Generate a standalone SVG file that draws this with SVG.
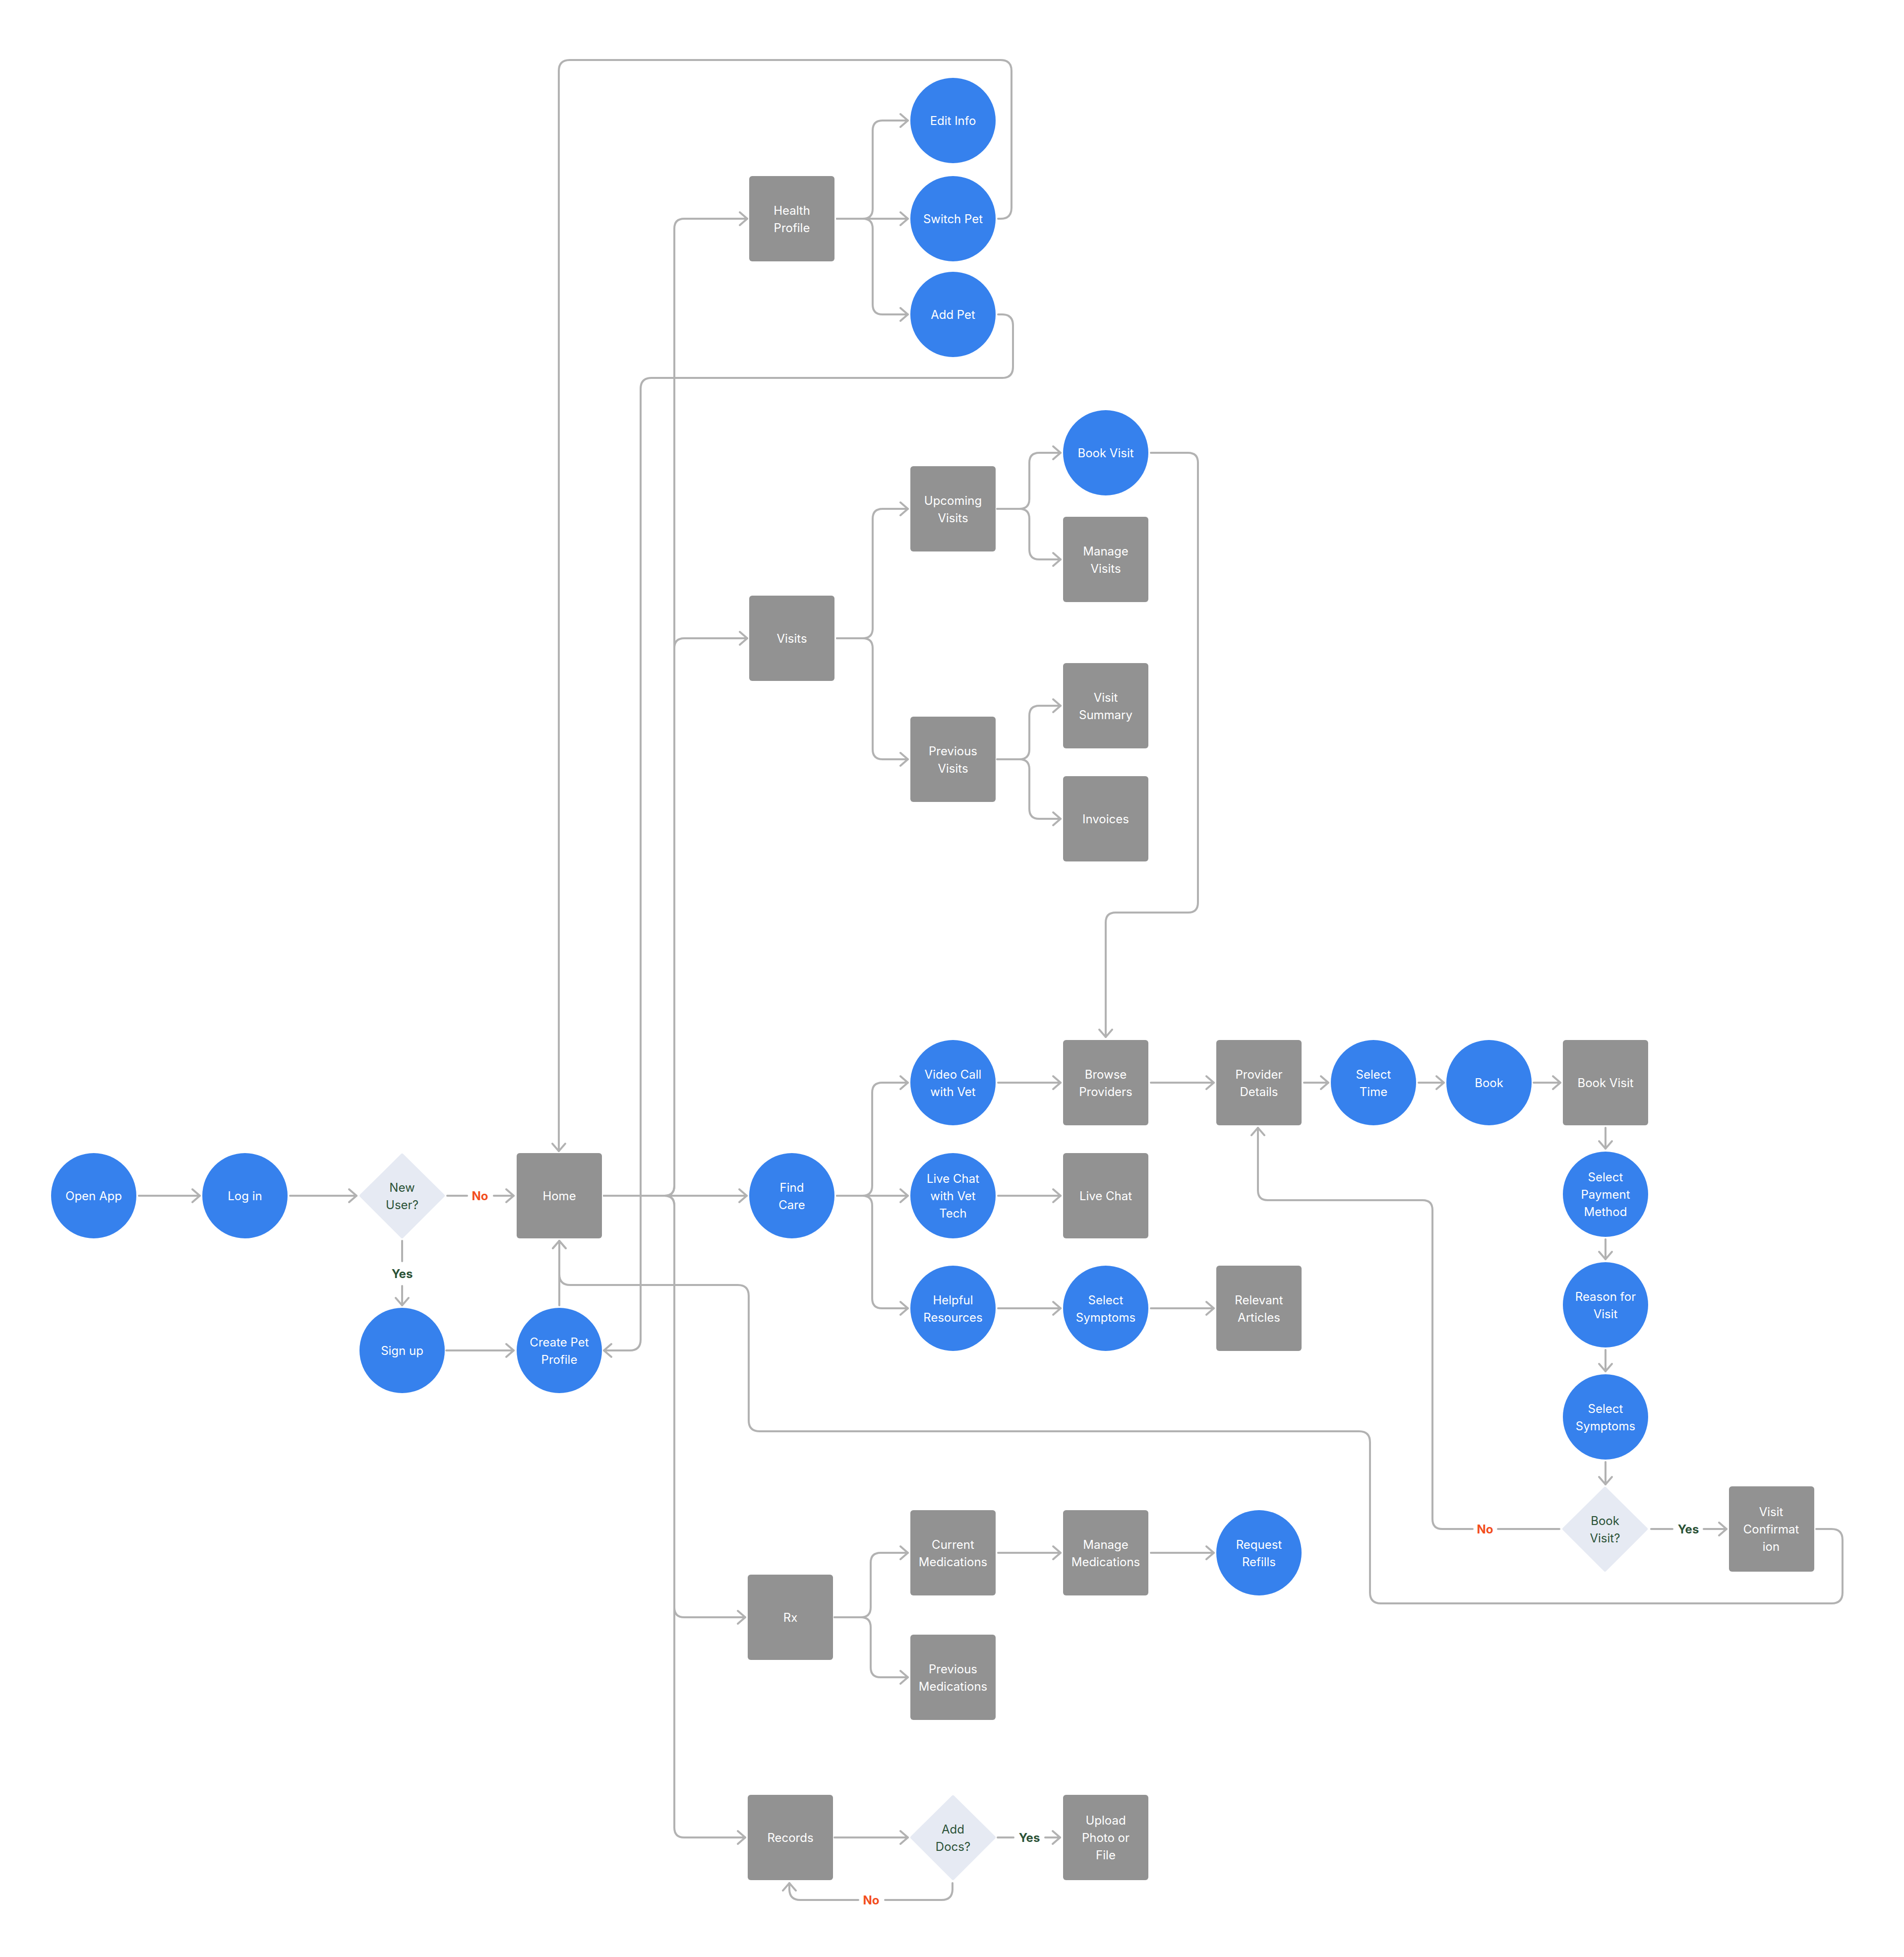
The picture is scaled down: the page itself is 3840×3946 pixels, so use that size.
<svg xmlns="http://www.w3.org/2000/svg" width="3840" height="3946" viewBox="0 0 3840 3946">
<style>
.bg{fill:#ffffff}
.c{fill:#3681ed}
.r{fill:#929292}
.d{fill:#e6eaf3;stroke:#e6eaf3;stroke-width:6;stroke-linejoin:round}
.t{font-family:Inter,"Noto Sans","Liberation Sans",sans-serif;font-size:24px;fill:#ffffff;text-anchor:middle;dominant-baseline:central}
.dt{font-family:Inter,"Noto Sans","Liberation Sans",sans-serif;font-size:24px;fill:#2b5237;text-anchor:middle;dominant-baseline:central}
.ln{fill:none;stroke:#b2b2b2;stroke-width:4;stroke-linecap:round;stroke-linejoin:round}
.a{marker-end:url(#arr)}
.yes{font-family:Inter,"Noto Sans","Liberation Sans",sans-serif;font-size:24px;font-weight:700;fill:#2b5237;text-anchor:middle;dominant-baseline:central}
.no{font-family:Inter,"Noto Sans","Liberation Sans",sans-serif;font-size:24px;font-weight:700;fill:#f24e1e;text-anchor:middle;dominant-baseline:central}
</style>
<defs>
<marker id="arr" viewBox="-20 -16 24 32" markerWidth="24" markerHeight="32" refX="0" refY="0" orient="auto" markerUnits="userSpaceOnUse">
<path d="M-15,-13 L0,0 L-15,13" fill="none" stroke="#b2b2b2" stroke-width="4" stroke-linecap="round" stroke-linejoin="round"/>
</marker>
</defs>
<rect class="bg" x="0" y="0" width="3840" height="3946"/>

<g id="connectors">
<path class="ln a" d="M280,2411 H403"/>
<path class="ln a" d="M585,2411 H719"/>
<path class="ln" d="M902,2411 H942"/>
<path class="ln a" d="M996,2411 H1036"/>
<path class="ln" d="M811,2502 V2543"/>
<path class="ln a" d="M811,2593 V2632"/>
<path class="ln a" d="M900,2723 H1036"/>
<path class="ln a" d="M1128,2632 V2502"/>
<path class="ln a" d="M1218,2411 H1506"/>
<path class="ln a" d="M1218,2411 H1340 Q1360,2411 1360,2391 V461 Q1360,441 1380,441 H1507"/>
<path class="ln a" d="M1218,2411 H1340 Q1360,2411 1360,2391 V1307 Q1360,1287 1380,1287 H1507"/>
<path class="ln a" d="M1218,2411 H1340 Q1360,2411 1360,2431 V3241 Q1360,3261 1380,3261 H1503"/>
<path class="ln a" d="M1218,2411 H1340 Q1360,2411 1360,2431 V3685 Q1360,3705 1380,3705 H1503"/>
<path class="ln a" d="M1688,441 H1740 Q1760,441 1760,421 V263 Q1760,243 1780,243 H1831"/>
<path class="ln a" d="M1688,441 H1831"/>
<path class="ln a" d="M1688,441 H1740 Q1760,441 1760,461 V614 Q1760,634 1780,634 H1831"/>
<path class="ln a" d="M2013,441 H2018 Q2040,441 2040,419 V143 Q2040,121 2018,121 H1149 Q1127,121 1127,143 V2321"/>
<path class="ln a" d="M2013,634 H2021 Q2043,634 2043,656 V740 Q2043,762 2021,762 H1314 Q1292,762 1292,784 V2701 Q1292,2723 1270,2723 H1218"/>
<path class="ln a" d="M1688,1287 H1740 Q1760,1287 1760,1267 V1046 Q1760,1026 1780,1026 H1831"/>
<path class="ln a" d="M1688,1287 H1740 Q1760,1287 1760,1307 V1511 Q1760,1531 1780,1531 H1831"/>
<path class="ln a" d="M2011,1026 H2056 Q2076,1026 2076,1006 V933 Q2076,913 2096,913 H2139"/>
<path class="ln a" d="M2011,1026 H2056 Q2076,1026 2076,1046 V1108 Q2076,1128 2096,1128 H2139"/>
<path class="ln a" d="M2011,1531 H2056 Q2076,1531 2076,1511 V1443 Q2076,1423 2096,1423 H2139"/>
<path class="ln a" d="M2011,1531 H2056 Q2076,1531 2076,1551 V1631 Q2076,1651 2096,1651 H2139"/>
<path class="ln a" d="M2321,913 H2396 Q2416,913 2416,933 V1820 Q2416,1840 2396,1840 H2250 Q2230,1840 2230,1860 V2091"/>
<path class="ln a" d="M1688,2411 H1739 Q1759,2411 1759,2391 V2203 Q1759,2183 1779,2183 H1831"/>
<path class="ln a" d="M1688,2411 H1831"/>
<path class="ln a" d="M1688,2411 H1739 Q1759,2411 1759,2431 V2618 Q1759,2638 1779,2638 H1831"/>
<path class="ln a" d="M2013,2183 H2139"/>
<path class="ln a" d="M2321,2183 H2448"/>
<path class="ln a" d="M2630,2183 H2679"/>
<path class="ln a" d="M2861,2183 H2912"/>
<path class="ln a" d="M3093,2183 H3147"/>
<path class="ln a" d="M3238,2274 V2316"/>
<path class="ln a" d="M3238,2499 V2539"/>
<path class="ln a" d="M3238,2722 V2765"/>
<path class="ln a" d="M3238,2948 V2993"/>
<path class="ln" d="M3330,3083 H3373"/>
<path class="ln a" d="M3436,3083 H3482"/>
<path class="ln" d="M3145,3083 H3021"/>
<path class="ln a" d="M2970,3083 H2909 Q2889,3083 2889,3063 V2440 Q2889,2420 2869,2420 H2557 Q2537,2420 2537,2400 V2274"/>
<path class="ln a" d="M3663,3083 H3694 Q3716,3083 3716,3105 V3211 Q3716,3233 3694,3233 H2785 Q2763,3233 2763,3211 V2908 Q2763,2886 2741,2886 H1532 Q1510,2886 1510,2864 V2613 Q1510,2591 1488,2591 H1150 Q1128,2591 1128,2569 V2502"/>
<path class="ln a" d="M2013,2411 H2139"/>
<path class="ln a" d="M2013,2638 H2139"/>
<path class="ln a" d="M2321,2638 H2448"/>
<path class="ln a" d="M1683,3261 H1736 Q1756,3261 1756,3241 V3151 Q1756,3131 1776,3131 H1831"/>
<path class="ln a" d="M1683,3261 H1736 Q1756,3261 1756,3281 V3362 Q1756,3382 1776,3382 H1831"/>
<path class="ln a" d="M2013,3131 H2139"/>
<path class="ln a" d="M2321,3131 H2448"/>
<path class="ln a" d="M1683,3705 H1831"/>
<path class="ln" d="M2012,3705 H2044"/>
<path class="ln a" d="M2108,3705 H2138"/>
<path class="ln" d="M1921,3797 V3809 Q1921,3831 1899,3831 H1785"/>
<path class="ln a" d="M1731,3831 H1614 Q1592,3831 1592,3809 V3797"/>
</g>

<g id="edge-labels">
<text class="no" x="968" y="2411">No</text>
<text class="yes" x="811" y="2568">Yes</text>
<text class="yes" x="3405" y="3083">Yes</text>
<text class="no" x="2995" y="3083">No</text>
<text class="yes" x="2076" y="3705">Yes</text>
<text class="no" x="1757" y="3831">No</text>
</g>

<g id="open-app"><circle class="c" cx="189" cy="2411" r="86"/><text class="t" x="189" y="2411">Open App</text></g>
<g id="log-in"><circle class="c" cx="494" cy="2411" r="86"/><text class="t" x="494" y="2411">Log in</text></g>
<g id="new-user"><path class="d" d="M811,2329 L894,2411 L811,2494 L728,2411 Z"/><text class="dt" x="811" y="2411"><tspan x="811" y="2394">New</tspan><tspan x="811" y="2429">User?</tspan></text></g>
<g id="home"><rect class="r" x="1042" y="2325" width="172" height="172" rx="6"/><text class="t" x="1128" y="2411">Home</text></g>
<g id="sign-up"><circle class="c" cx="811" cy="2723" r="86"/><text class="t" x="811" y="2723">Sign up</text></g>
<g id="create-pet-profile"><circle class="c" cx="1128" cy="2723" r="86"/><text class="t"><tspan x="1128" y="2706">Create Pet</tspan><tspan x="1128" y="2741">Profile</tspan></text></g>

<g id="health-profile"><rect class="r" x="1511" y="355" width="172" height="172" rx="6"/><text class="t"><tspan x="1597" y="424">Health</tspan><tspan x="1597" y="459">Profile</tspan></text></g>
<g id="edit-info"><circle class="c" cx="1922" cy="243" r="86"/><text class="t" x="1922" y="243">Edit Info</text></g>
<g id="switch-pet"><circle class="c" cx="1922" cy="441" r="86"/><text class="t" x="1922" y="441">Switch Pet</text></g>
<g id="add-pet"><circle class="c" cx="1922" cy="634" r="86"/><text class="t" x="1922" y="634">Add Pet</text></g>

<g id="visits"><rect class="r" x="1511" y="1201" width="172" height="172" rx="6"/><text class="t" x="1597" y="1287">Visits</text></g>
<g id="upcoming-visits"><rect class="r" x="1836" y="940" width="172" height="172" rx="6"/><text class="t"><tspan x="1922" y="1009">Upcoming</tspan><tspan x="1922" y="1044">Visits</tspan></text></g>
<g id="book-visit-start"><circle class="c" cx="2230" cy="913" r="86"/><text class="t" x="2230" y="913">Book Visit</text></g>
<g id="manage-visits"><rect class="r" x="2144" y="1042" width="172" height="172" rx="6"/><text class="t"><tspan x="2230" y="1111">Manage</tspan><tspan x="2230" y="1146">Visits</tspan></text></g>
<g id="previous-visits"><rect class="r" x="1836" y="1445" width="172" height="172" rx="6"/><text class="t"><tspan x="1922" y="1514">Previous</tspan><tspan x="1922" y="1549">Visits</tspan></text></g>
<g id="visit-summary"><rect class="r" x="2144" y="1337" width="172" height="172" rx="6"/><text class="t"><tspan x="2230" y="1406">Visit</tspan><tspan x="2230" y="1441">Summary</tspan></text></g>
<g id="invoices"><rect class="r" x="2144" y="1565" width="172" height="172" rx="6"/><text class="t" x="2230" y="1651">Invoices</text></g>

<g id="find-care"><circle class="c" cx="1597" cy="2411" r="86"/><text class="t"><tspan x="1597" y="2394">Find</tspan><tspan x="1597" y="2429">Care</tspan></text></g>
<g id="video-call"><circle class="c" cx="1922" cy="2183" r="86"/><text class="t"><tspan x="1922" y="2166">Video Call</tspan><tspan x="1922" y="2201">with Vet</tspan></text></g>
<g id="live-chat-vet-tech"><circle class="c" cx="1922" cy="2411" r="86"/><text class="t"><tspan x="1922" y="2376">Live Chat</tspan><tspan x="1922" y="2411">with Vet</tspan><tspan x="1922" y="2446">Tech</tspan></text></g>
<g id="helpful-resources"><circle class="c" cx="1922" cy="2638" r="86"/><text class="t"><tspan x="1922" y="2621">Helpful</tspan><tspan x="1922" y="2656">Resources</tspan></text></g>
<g id="browse-providers"><rect class="r" x="2144" y="2097" width="172" height="172" rx="6"/><text class="t"><tspan x="2230" y="2166">Browse</tspan><tspan x="2230" y="2201">Providers</tspan></text></g>
<g id="live-chat"><rect class="r" x="2144" y="2325" width="172" height="172" rx="6"/><text class="t" x="2230" y="2411">Live Chat</text></g>
<g id="select-symptoms-resources"><circle class="c" cx="2230" cy="2638" r="86"/><text class="t"><tspan x="2230" y="2621">Select</tspan><tspan x="2230" y="2656">Symptoms</tspan></text></g>
<g id="provider-details"><rect class="r" x="2453" y="2097" width="172" height="172" rx="6"/><text class="t"><tspan x="2539" y="2166">Provider</tspan><tspan x="2539" y="2201">Details</tspan></text></g>
<g id="relevant-articles"><rect class="r" x="2453" y="2552" width="172" height="172" rx="6"/><text class="t"><tspan x="2539" y="2621">Relevant</tspan><tspan x="2539" y="2656">Articles</tspan></text></g>
<g id="select-time"><circle class="c" cx="2770" cy="2183" r="86"/><text class="t"><tspan x="2770" y="2166">Select</tspan><tspan x="2770" y="2201">Time</tspan></text></g>
<g id="book"><circle class="c" cx="3003" cy="2183" r="86"/><text class="t" x="3003" y="2183">Book</text></g>
<g id="book-visit"><rect class="r" x="3152" y="2097" width="172" height="172" rx="6"/><text class="t" x="3238" y="2183">Book Visit</text></g>
<g id="select-payment-method"><circle class="c" cx="3238" cy="2408" r="86"/><text class="t"><tspan x="3238" y="2373">Select</tspan><tspan x="3238" y="2408">Payment</tspan><tspan x="3238" y="2443">Method</tspan></text></g>
<g id="reason-for-visit"><circle class="c" cx="3238" cy="2631" r="86"/><text class="t"><tspan x="3238" y="2614">Reason for</tspan><tspan x="3238" y="2649">Visit</tspan></text></g>
<g id="select-symptoms-visit"><circle class="c" cx="3238" cy="2857" r="86"/><text class="t"><tspan x="3238" y="2840">Select</tspan><tspan x="3238" y="2875">Symptoms</tspan></text></g>
<g id="book-visit-decision"><path class="d" d="M3237,3001 L3320,3083 L3237,3166 L3154,3083 Z"/><text class="dt"><tspan x="3237" y="3066">Book</tspan><tspan x="3237" y="3101">Visit?</tspan></text></g>
<g id="visit-confirmation"><rect class="r" x="3487" y="2997" width="172" height="172" rx="6"/><text class="t"><tspan x="3572" y="3048">Visit</tspan><tspan x="3572" y="3083">Confirmat</tspan><tspan x="3572" y="3118">ion</tspan></text></g>

<g id="rx"><rect class="r" x="1508" y="3175" width="172" height="172" rx="6"/><text class="t" x="1594" y="3261">Rx</text></g>
<g id="current-medications"><rect class="r" x="1836" y="3045" width="172" height="172" rx="6"/><text class="t"><tspan x="1922" y="3114">Current</tspan><tspan x="1922" y="3149">Medications</tspan></text></g>
<g id="manage-medications"><rect class="r" x="2144" y="3045" width="172" height="172" rx="6"/><text class="t"><tspan x="2230" y="3114">Manage</tspan><tspan x="2230" y="3149">Medications</tspan></text></g>
<g id="request-refills"><circle class="c" cx="2539" cy="3131" r="86"/><text class="t"><tspan x="2539" y="3114">Request</tspan><tspan x="2539" y="3149">Refills</tspan></text></g>
<g id="previous-medications"><rect class="r" x="1836" y="3296" width="172" height="172" rx="6"/><text class="t"><tspan x="1922" y="3365">Previous</tspan><tspan x="1922" y="3400">Medications</tspan></text></g>

<g id="records"><rect class="r" x="1508" y="3619" width="172" height="172" rx="6"/><text class="t" x="1594" y="3705">Records</text></g>
<g id="add-docs"><path class="d" d="M1922,3623 L2005,3705 L1922,3788 L1839,3705 Z"/><text class="dt"><tspan x="1922" y="3688">Add</tspan><tspan x="1922" y="3723">Docs?</tspan></text></g>
<g id="upload"><rect class="r" x="2144" y="3619" width="172" height="172" rx="6"/><text class="t"><tspan x="2230" y="3670">Upload</tspan><tspan x="2230" y="3705">Photo or</tspan><tspan x="2230" y="3740">File</tspan></text></g>
</svg>
